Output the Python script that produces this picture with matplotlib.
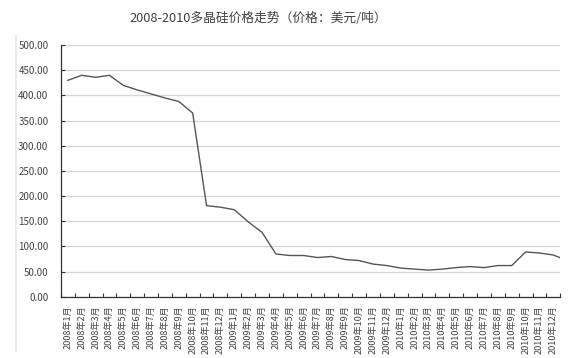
import matplotlib
matplotlib.use("Agg")
import matplotlib.pyplot as plt
from matplotlib.lines import Line2D

plt.rcParams['font.family'] = ['Noto Sans CJK SC', 'DejaVu Sans']

# monthly polysilicon price, USD/ton (last value is the clipped Jan 2011 lead-out)
months = [f"{y}年{m}月" for y in (2008, 2009, 2010) for m in range(1, 13)]
prices = [430, 440, 436, 440, 420, 411, 403, 395, 388, 365, 181, 178,
          173, 149, 128, 85, 82, 82, 78, 80, 74, 72, 65, 62,
          57, 55, 53, 55, 58, 60, 58, 62, 62, 89, 87, 83,
          72]

fig = plt.figure(figsize=(5.8, 3.58), dpi=100)
ax = fig.add_axes([0.105, 0.171, 0.861, 0.703])

ax.plot(range(len(prices)), prices, color='#555555', lw=1.0, clip_on=True)

ax.set_xlim(-0.5, len(months) - 0.5)
ax.set_ylim(0, 500)
ax.set_yticks(range(0, 501, 50))
ax.set_yticklabels([f"{v:.2f}" for v in range(0, 501, 50)])
ax.yaxis.grid(True, color='#d4d4d4', lw=0.9)
ax.set_axisbelow(True)

# ticks on category boundaries, labels at category centres
ax.set_xticks([i - 0.5 for i in range(len(months) + 1)])
ax.set_xticklabels([])
ax.set_xticks(range(len(months)), minor=True)
ax.set_xticklabels(months, minor=True, rotation=90, fontsize=6.6,
                   color='#444444', va='top', ha='center')
ax.tick_params(axis='x', which='minor', length=0, pad=6)
ax.tick_params(axis='x', which='major', direction='in', length=3, color='#333333')
ax.tick_params(axis='y', direction='in', length=3, color='#333333',
               labelsize=7, labelcolor='#444444', pad=9)

for s in ('top', 'right'):
    ax.spines[s].set_visible(False)
for s in ('left', 'bottom'):
    ax.spines[s].set_color('#333333')
    ax.spines[s].set_linewidth(0.9)

fig.text(0.445, 0.948, "2008-2010多晶硅价格走势（价格：美元/吨）",
         ha='center', va='center', fontsize=9.2, color='#404040')

# faint frame edge on the left of the screenshot
fig.add_artist(Line2D([0.028, 0.028], [0.02, 0.9], color='#e6e6e6', lw=1.2))

fig.savefig("out.png", dpi=100)
